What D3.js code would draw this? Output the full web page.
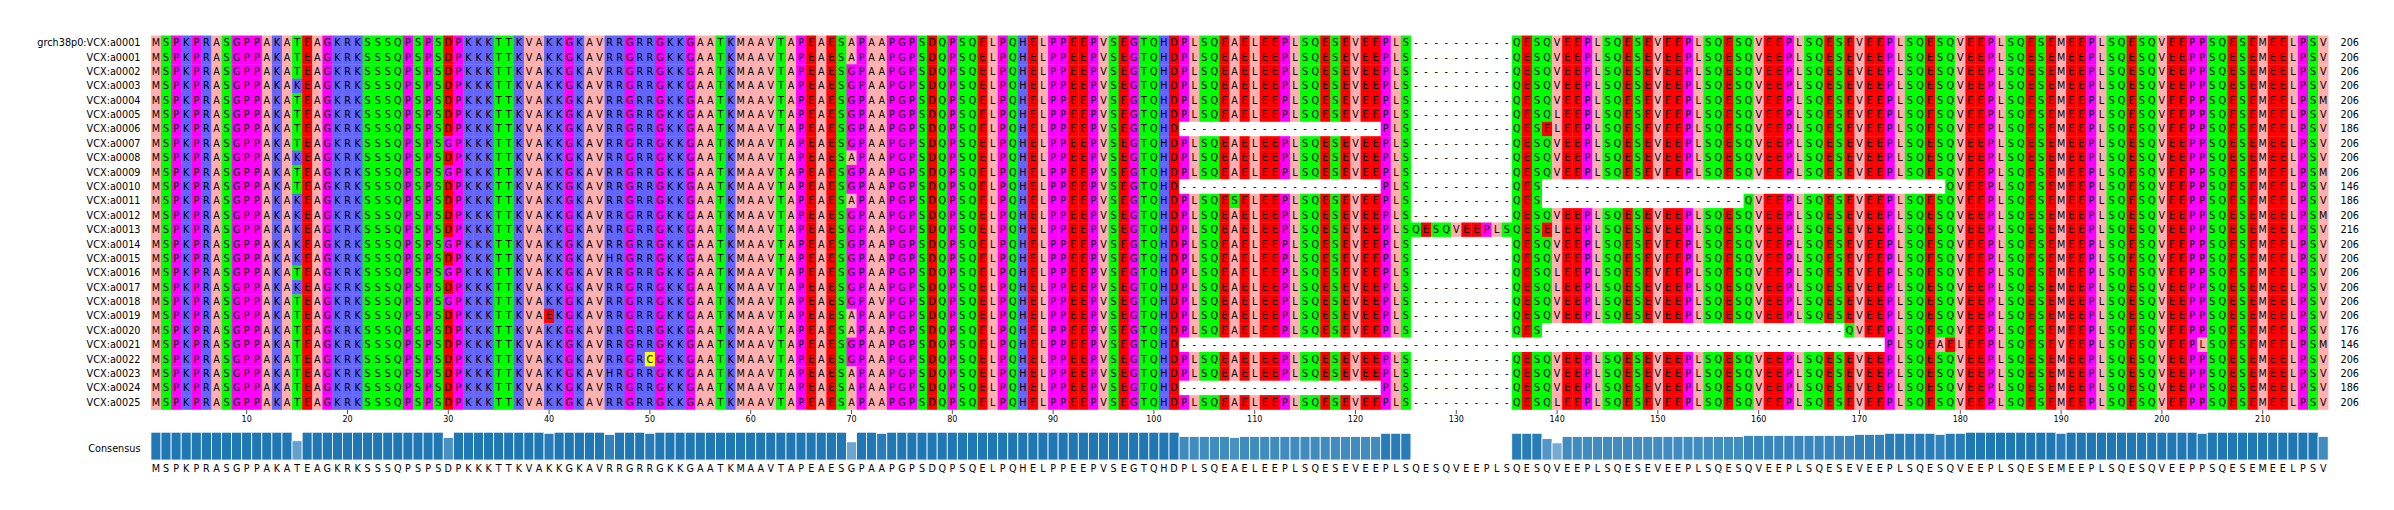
<!DOCTYPE html>
<html><head><meta charset="utf-8">
<script src="https://cdn.jsdelivr.net/npm/d3@7/dist/d3.min.js"></script>
<style>body{margin:0;background:#fff;overflow:hidden} text{font-family:"DejaVu Sans",sans-serif}</style>
</head><body><svg id="c" width="2394" height="510"></svg>
<script>
const names = ["grch38p0:VCX:a0001","VCX:a0001","VCX:a0002","VCX:a0003","VCX:a0004","VCX:a0005","VCX:a0006","VCX:a0007","VCX:a0008","VCX:a0009","VCX:a0010","VCX:a0011","VCX:a0012","VCX:a0013","VCX:a0014","VCX:a0015","VCX:a0016","VCX:a0017","VCX:a0018","VCX:a0019","VCX:a0020","VCX:a0021","VCX:a0022","VCX:a0023","VCX:a0024","VCX:a0025"];
const lengths = [206,206,206,206,206,206,186,206,206,206,146,186,206,216,206,206,206,206,206,206,176,146,206,206,186,206];
// aligned sequences, written in blocks of 10 columns
const sequences = [
"MSPKPRASGP PAKATEAGKR KSSSQPSPSD PKKKTTKVAK KGKAVRRGRR GKKGAATKMA AVTAPEAESA PAAPGPSDQP SQELPQHELP PEEPVSEGTQ HDPLSQEAEL EEPLSQESEV EEPLS----- -----QESQV EEPLSQESEV EEPLSQESQV EEPLSQESEV EEPLSQESQV EEPLSQESEM EEPLSQESQV EEPPSQESEM EELPSV",
"MSPKPRASGP PAKATEAGKR KSSSQPSPSD PKKKTTKVAK KGKAVRRGRR GKKGAATKMA AVTAPEAESA PAAPGPSDQP SQELPQHELP PEEPVSEGTQ HDPLSQEAEL EEPLSQESEV EEPLS----- -----QESQV EEPLSQESEV EEPLSQESQV EEPLSQESEV EEPLSQESQV EEPLSQESEM EEPLSQESQV EEPPSQESEM EELPSV",
"MSPKPRASGP PAKATEAGKR KSSSQPSPSD PKKKTTKVAK KGKAVRRGRR GKKGAATKMA AVTAPEAESG PAAPGPSDQP SQELPQHELP PEEPVSEGTQ HDPLSQEAEL EEPLSQESEV EEPLS----- -----QESQV EEPLSQESEV EEPLSQESQV EEPLSQESEV EEPLSQESQV EEPLSQESEM EEPLSQESQV EEPPSQESEM EELPSV",
"MSPKPRASGP PAKAKEAGKR KSSSQPSPSD PKKKTTKVAK KGKAVRRGRR GKKGAATKMA AVTAPEAESG PAAPGPSDQP SQELPQHELP PEEPVSEGTQ HDPLSQEAEL EEPLSQESEV EEPLS----- -----QESQV EEPLSQESEV EEPLSQESQV EEPLSQESEV EEPLSQESQV EEPLSQESEM EEPLSQESQV EEPPSQESEM EELPSV",
"MSPKPRASGP PAKATEAGKR KSSSQPSPSD PKKKTTKVAK KGKAVRRGRR GKKGAATKMA AVTAPEAESG PAAPGPSDQP SQELPQHELP PEEPVSEGTQ HDPLSQEAEL EEPLSQESEV EEPLS----- -----QESQV EEPLSQESEV EEPLSQESQV EEPLSQESEV EEPLSQESQV EEPLSQESEM EEPLSQESQV EEPPSQESEM EELPSM",
"MSPKPRASGP PAKATEAGKR KSSSQPSPSD PKKKTTKVAK KGKAVRRGRR GKKGAATKMA AVTAPEAESG PAAPGPSDQP SQELPQHELP PEEPVSEGTQ HDPLSQEAEL EEPLSQESEV EEPLS----- -----QESQL EEPLSQESEV EEPLSQESQV EEPLSQESEV EEPLSQESQV EEPLSQESEM EEPLSQESQV EEPPSQESEM EELPSV",
"MSPKPRASGP PAKATEAGKR KSSSQPSPSD PKKKTTKVAK KGKAVRRGRR GKKGAATKMA AVTAPEAESG PAAPGPSDQP SQELPQHELP PEEPVSEGTQ HD-------- ---------- --PLS----- -----QESEL EEPLSQESEV EEPLSQESQV EEPLSQESEV EEPLSQESQV EEPLSQESEM EEPLSQESQV EEPPSQESEM EELPSV",
"MSPKPRASGP PAKATEAGKR KSSSQPSPSG PKKKTTKVAK KGKAVRRGRR GKKGAATKMA AVTAPEAESG PAAPGPSDQP SQELPQHELP PEEPVSEGTQ HDPLSQEAEL EEPLSQESEV EEPLS----- -----QESQV EEPLSQESEV EEPLSQESQV EEPLSQESEV EEPLSQESQV EEPLSQESEM EEPLSQESQV EEPPSQESEM EELPSV",
"MSPKPRASGP PAKAKEAGKR KSSSQPSPSD PKKKTTKVAK KGKAVRRGRR GKKGAATKMA AVTAPEAESA PAAPGPSDQP SQELPQHELP PEEPVSEGTQ HDPLSQEAEL EEPLSQESEV EEPLS----- -----QESQV EEPLSQESEV EEPLSQESQV EEPLSQESEV EEPLSQESQV EEPLSQESEM EEPLSQESQV EEPPSQESEM EELPSV",
"MSPKPRASGP PAKATEAGKR KSSSQPSPSG PKKKTTKVAK KGKAVRRGRR GKKGAATKMA AVTAPEAESG PAAPGPSDQP SQELPQHELP PEEPVSEGTQ HDPLSQEAEL EEPLSQESEV EEPLS----- -----QESQV EEPLSQESEV EEPLSQESQV EEPLSQESEV EEPLSQESQV EEPLSQESEM EEPLSQESQV EEPPSQESEM EELPSM",
"MSPKPRASGP PAKATEAGKR KSSSQPSPSD PKKKTTKVAK KGKAVRRGRR GKKGAATKMA AVTAPEAESG PAAPGPSDQP SQELPQHELP PEEPVSEGTQ HD-------- ---------- --PLS----- -----QES-- ---------- ---------- ---------- --------QV EEPLSQESEM EEPLSQESQV EEPPSQESEM EELPSV",
"MSPKPRASGP PAKAKEAGKR KSSSQPSPSD PKKKTTKVAK KGKAVRRGRR GKKGAATKMA AVTAPEAESA PAAPGPSDQP SQELPQHELP PEEPVSEGTQ HDPLSQESEL EEPLSQESEV EEPLS----- -----QES-- ---------- --------QV EEPLSQESEV EEPLSQESQV EEPLSQESEM EEPLSQESQV EEPPSQESEM EELPSV",
"MSPKPRASGP PAKAKEAGKR KSSSQPSPSD PKKKTTKVAK KGKAVRRGRR GKKGAATKMA AVTAPEAESG PAAPGPSDQP SQELPQHELP PEEPVSEGTQ HDPLSQEAEL EEPLSQESEV EEPLS----- -----QESQV EEPLSQESEV EEPLSQESQV EEPLSQESEV EEPLSQESQV EEPLSQESEM EEPLSQESQV EEPPSQESEM EELPSM",
"MSPKPRASGP PAKAKEAGKR KSSSQPSPSD PKKKTTKVAK KGKAVRRGRR GKKGAATKMA AVTAPEAESG PAAPGPSDQP SQELPQHELP PEEPVSEGTQ HDPLSQEAEL EEPLSQESEV EEPLSQESQV EEPLSQESEL EEPLSQESEV EEPLSQESQV EEPLSQESEV EEPLSQESQV EEPLSQESEM EEPLSQESQV EEPPSQESEM EELPSV",
"MSPKPRASGP PAKAKEAGKR KSSSQPSPSG PKKKTTKVAK KGKAVRRGRR GKKGAATKMA AVTAPEAESG PAAPGPSDQP SQELPQHELP PEEPVSEGTQ HDPLSQEAEL EEPLSQESEV EEPLS----- -----QESQV EEPLSQESEV EEPLSQESQV EEPLSQESEV EEPLSQESQV EEPLSQESEM EEPLSQESQV EEPPSQESEM EELPSV",
"MSPKPRASGP PAKAKEAGKR KSSSQPSPSD PKKKTTKVAK KGKAVHRGRR GKKGAATKMA AVTAPEAESG PAAPGPSDQP SQELPQHELP PEEPVSEGTQ HDPLSQEAEL EEPLSQESEV EEPLS----- -----QESQV EEPLSQESEV EEPLSQESQV EEPLSQESEV EEPLSQESQV EEPLSQESEM EEPLSQESQV EEPPSQESEM EELPSV",
"MSPKPRASGP PAKATEAGKR KSSSQPSPSG PKKKTTKVAK KGKAVRRGRR GKKGAATKMA AVTAPEAESG PAAPGPSDQP SQELPQHELP PEEPVSEGTQ HDPLSQEAEL EEPLSQESEV EEPLS----- -----QESQL EEPLSQESEV EEPLSQESQV EEPLSQESEV EEPLSQESQV EEPLSQESEM EEPLSQESQV EEPPSQESEM EELPSV",
"MSPKPRASGP PAKAKEAGKR KSSSQPSPSD PKKKTTKVAK KGKAVRRGRR GKKGAATKMA AVTAPEAESG PAAPGPSDQP SQELPQHELP PEEPVSEGTQ HDPLSQEAEL EEPLSQESEV EEPLS----- -----QESQL EEPLSQESEV EEPLSQESQV EEPLSQESEV EEPLSQESQV EEPLSQESEM EEPLSQESQV EEPPSQESEM EELPSV",
"MSPKPRASGP PAKATEAGKR KSSSQPSPSG PKKKTTKVAK KGKAVRRGRR GKKGAATKMA AVTAPEAESG PAVPGPSDQP SQELPQHELP PEEPVSEGTQ HDPLSQEAEL EEPLSQESEV EEPLS----- -----QESQV EEPLSQESEV EEPLSQESQV EEPLSQESEV EEPLSQESQV EEPLSQESEM EEPLSQESQV EEPPSQESEM EELPSV",
"MSPKPRASGP PAKATEAGKR KSSSQPSPSD PKKKTTKVAE KGKAVRRGRR GKKGAATKMA AVTAPEAESA PAAPGPSDQP SQELPQHELP PEEPVSEGTQ HDPLSQEAEL EEPLSQESEV EEPLS----- -----QESQV EEPLSQESEV EEPLSQESQV EEPLSQESEV EEPLSQESQV EEPLSQESEM EEPLSQESQV EEPPSQESEM EELPSV",
"MSPKPRASGP PAKATEAGKR KSSSQPSPSD PKKKTTKVAK KGKAVRRGRR GKKGAATKMA AVTAPEAESA PAAPGPSDQP SQELPQHELP PEEPVSEGTQ HDPLSQEAEL EEPLSQESEV EEPLS----- -----QES-- ---------- ---------- --------QV EEPLSQESQV EEPLSQESEM EEPLSQESQV EEPPSQESEM EELPSV",
"MSPKPRASGP PAKATEAGKR KSSSQPSPSD PKKKTTKVAK KGKAVRRGRR GKKGAATKMA AVTAPEAESG PAAPGPSDQP SQELPQHELP PEEPVSEGTQ HD-------- ---------- ---------- ---------- ---------- ---------- ---------- --PLSQEAEL EEPLSQESEV EEPLSQESQV EEPLSQESEM EELPSM",
"MSPKPRASGP PAKATEAGKR KSSSQPSPSD PKKKTTKVAK KGKAVRRGRC GKKGAATKMA AVTAPEAESG PAAPGPSDQP SQELPQHELP PEEPVSEGTQ HDPLSQEAEL EEPLSQESEV EEPLS----- -----QESQV EEPLSQESEV EEPLSQESQV EEPLSQESEV EEPLSQESQV EEPLSQESEM EEPLSQESQV EEPPSQESEM EELPSV",
"MSPKPRASGP PAKATEAGKR KSSSQPSPSD PKKKTTKVAK KGKAVHRGRR GKKGAATKMA AVTAPEAESA PAAPGPSDQP SQELPQHELP PEEPVSEGTQ HDPLSQEAEL EEPLSQESEV EEPLS----- -----QESQV EEPLSQESEV EEPLSQESQV EEPLSQESEV EEPLSQESQV EEPLSQESEM EEPLSQESQV EEPPSQESEM EELPSV",
"MSPKPRASGP PAKATEAGKR KSSSQPSPSD PKKKTTKVAK KGKAVRRGRR GKKGAATKMA AVTAPEAESA PAAPGPSDQP SQELPQHELP PEEPVSEGTQ HD-------- ---------- --PLS----- -----QESQV EEPLSQESEV EEPLSQESQV EEPLSQESEV EEPLSQESQV EEPLSQESEM EEPLSQESQV EEPPSQESEM EELPSV",
"MSPKPRASGP PAKATEAGKR KSSSQPSPSD PKKKTTKVAK KGKAVRRGRR GKKGAATKMA AVTAPEAESA PAAPGPSDQP SQELPQHELP PEEPVSEGTQ HDPLSQEAEL EEPLSQESEV EEPLS----- -----QESQL EEPLSQESEV EEPLSQESQV EEPLSQESEV EEPLSQESQV EEPLSQESEM EEPLSQESQV EEPPSQESEM EELPSV"
].map(s => s.replace(/ /g, ""));
const tickLabels = [10,20,30,40,50,60,70,80,90,100,110,120,130,140,150,160,170,180,190,200,210];
// Zappo colour scheme
const residueGroups = [["AVLIM","#ffafaf"],["FWY","#ffc800"],["KRH","#6464ff"],["DE","#ff0000"],["STNQ","#00ff00"],["PG","#ff00ff"],["C","#ffff00"]];

const colorOf = {};
residueGroups.forEach(([aa, c]) => { for (const ch of aa) colorOf[ch] = c; });

const nCol = d3.max(sequences, s => s.length);
const cols = d3.range(1, nCol + 1);
const svg = d3.select("#c");

const x = d3.scaleBand().domain(cols).range([150.94, 150.94 + 10.08 * nCol]).padding(0);
const y = d3.scaleBand().domain(d3.range(sequences.length)).range([35.5, 409.5]).padding(0);
const bw = x.bandwidth(), bh = y.bandwidth();

// alignment cells
const cellData = [];
sequences.forEach((s, r) => { for (let i = 0; i < s.length; i++) cellData.push({r, c: i + 1, ch: s[i]}); });

const gAln = svg.append("g");
gAln.selectAll("rect").data(cellData).join("rect")
  .attr("x", d => x(d.c)).attr("y", d => y(d.r))
  .attr("width", bw + 0.3).attr("height", bh + 0.3)
  .attr("fill", d => d.ch === "-" ? "#ffffff" : (colorOf[d.ch] || "#ffffff"));
gAln.selectAll("text").data(cellData).join("text")
  .attr("x", d => x(d.c) + bw / 2).attr("y", d => y(d.r) + bh / 2)
  .attr("dy", "0.36em").attr("text-anchor", "middle")
  .attr("font-size", 9.6).attr("fill", "#000")
  .text(d => d.ch);

// row labels
svg.append("g").selectAll("text").data(names).join("text")
  .attr("x", 140.5).attr("y", (d, i) => y(i) + bh / 2).attr("dy", "0.36em")
  .attr("text-anchor", "end").attr("font-size", 9.7).attr("fill", "#000").text(d => d);

// lengths on the right
svg.append("g").selectAll("text").data(lengths).join("text")
  .attr("x", 2340.5).attr("y", (d, i) => y(i) + bh / 2).attr("dy", "0.36em")
  .attr("text-anchor", "start").attr("font-size", 9.7).attr("fill", "#000").text(d => d);

// position axis
const axis = d3.axisBottom(x).tickValues(tickLabels).tickSize(4).tickPadding(2);
const gAx = svg.append("g").attr("transform", "translate(0,410)").call(axis);
gAx.select(".domain").remove();
gAx.selectAll(".tick line").attr("stroke", "#222").attr("stroke-width", 0.8);
gAx.selectAll(".tick text").attr("font-family", "DejaVu Sans").attr("font-size", 8).attr("fill", "#000");

// consensus
const consensus = cols.map(c => {
  const counts = d3.rollup(sequences.map(s => s[c - 1]).filter(ch => ch && ch !== "-"), v => v.length, d => d);
  let best = "-", n = 0;
  for (const [k, v] of counts) if (v > n) { best = k; n = v; }
  return {c, ch: best, id: n / sequences.length};
});
const yc = d3.scaleLinear().domain([0, 1]).range([460, 432.2]);
svg.append("g").selectAll("rect").data(consensus).join("rect")
  .attr("x", d => x(d.c)).attr("width", bw)
  .attr("y", d => yc(d.id)).attr("height", d => yc(0) - yc(d.id))
  .attr("fill", "#1f77b4").attr("fill-opacity", d => d.id)
  .attr("stroke", "#ffffff").attr("stroke-width", 0.8);
svg.append("g").selectAll("text").data(consensus).join("text")
  .attr("x", d => x(d.c) + bw / 2).attr("y", 468.8).attr("dy", "0.36em")
  .attr("text-anchor", "middle").attr("font-size", 9.6).attr("fill", "#000")
  .text(d => d.ch);
svg.append("text").attr("x", 140.5).attr("y", 448.3).attr("dy", "0.36em")
  .attr("text-anchor", "end").attr("font-size", 9.7).attr("fill", "#000").text("Consensus");
</script></body></html>
